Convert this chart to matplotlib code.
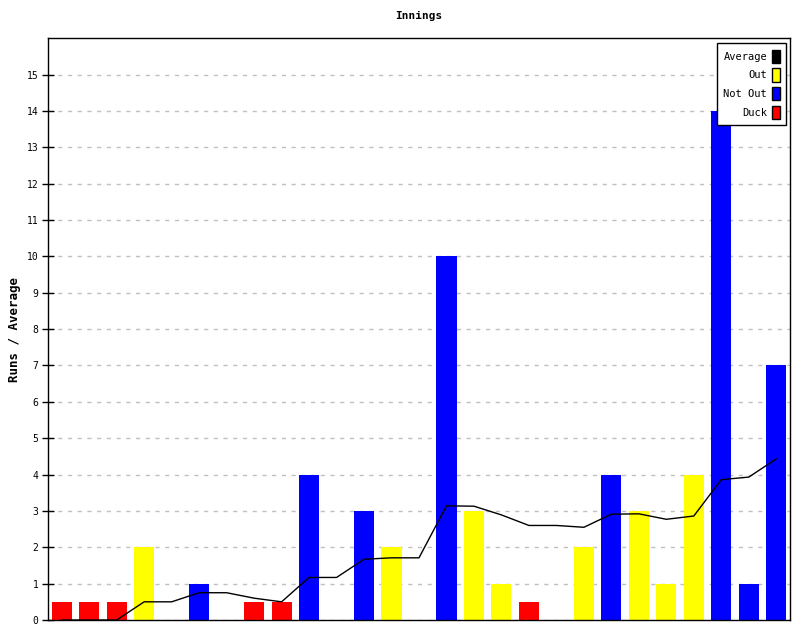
import matplotlib
matplotlib.use("Agg")
import matplotlib.pyplot as plt
from matplotlib.patches import Patch

# innings in order; D = duck (drawn at 0.5), O = out, N = not out
kinds = ["D", "D", "D", "O", "N", "N", "N", "D", "D", "N", "N", "N", "O", "N",
         "N", "O", "O", "D", "N", "O", "N", "O", "O", "O", "N", "N", "N"]
heights = [0.5, 0.5, 0.5, 2, 0, 1, 0, 0.5, 0.5, 4, 0, 3, 2, 0,
           10, 3, 1, 0.5, 0, 2, 4, 3, 1, 4, 14, 1, 7]
average = [0, 0, 0, 0.5, 0.5, 0.75, 0.75, 0.6, 0.5, 1.17, 1.17, 1.67, 1.71, 1.71,
           3.14, 3.13, 2.89, 2.6, 2.6, 2.55, 2.91, 2.92, 2.77, 2.86, 3.86, 3.93, 4.43]

colours = {"D": "#ff0000", "O": "#ffff00", "N": "#0000ff"}
font = "DejaVu Sans Mono"

fig = plt.figure(figsize=(8, 6.4), dpi=100)
ax = fig.add_axes([0.06, 0.03125, 0.9275, 0.909])

x = list(range(len(heights)))
ax.bar(x, heights, width=0.73, color=[colours[k] for k in kinds], zorder=2)
ax.plot(x, average, color="black", linewidth=1, zorder=3)

ax.set_xlim(-0.5, 26.5)
ax.set_ylim(0, 16)
ax.set_xticks([])
ax.set_yticks(range(16))
ax.tick_params(axis="y", direction="inout", length=8, width=1, labelsize=7, pad=3)
for lab in ax.get_yticklabels():
    lab.set_family(font)
ax.grid(axis="y", color="#c0c0c0", linestyle=(0, (3, 4)), linewidth=1, zorder=1)
for s in ax.spines.values():
    s.set_linewidth(1)

ax.set_title("Innings", fontsize=8, fontweight="bold", family=font, pad=14)
ax.set_ylabel("Runs / Average", fontsize=9, fontweight="bold", family=font, labelpad=4)

handles = [Patch(facecolor="black", edgecolor="black"),
           Patch(facecolor=colours["O"], edgecolor="black"),
           Patch(facecolor=colours["N"], edgecolor="black"),
           Patch(facecolor=colours["D"], edgecolor="black")]
leg = ax.legend(handles, ["Average", "Out", "Not Out", "Duck"], loc="upper right",
                markerfirst=False, handlelength=0.7, handleheight=1.6,
                handletextpad=0.5, labelspacing=0.5, borderpad=0.6,
                borderaxespad=0, fancybox=False, framealpha=1, edgecolor="black",
                prop={"family": font, "size": 7.5}, bbox_to_anchor=(0.9946, 0.991))
leg.get_frame().set_linewidth(1)
for t in leg.get_texts():
    t.set_ha("right")

fig.savefig("out.png", dpi=100)
